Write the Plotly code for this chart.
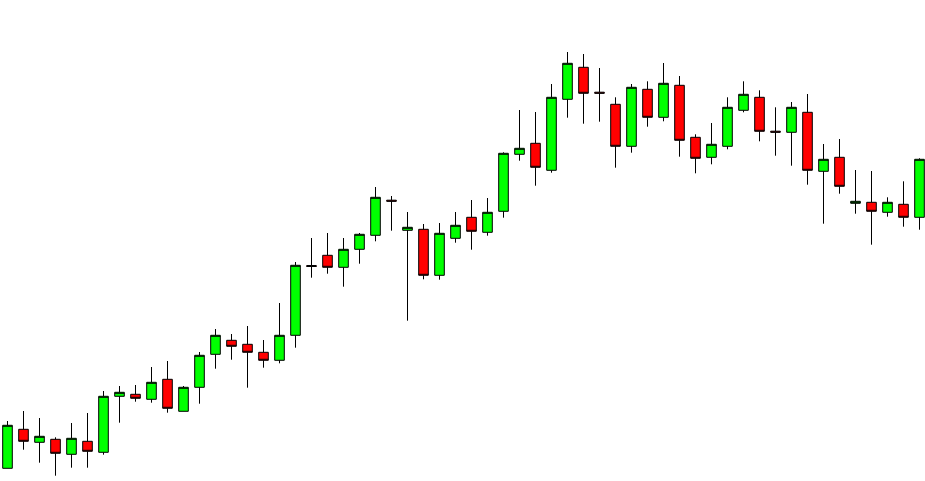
import plotly.graph_objects as go

bars = list(range(58))

open_ = [12.7, 51.7, 38.7, 41.7, 26.7, 39.7, 28.7, 84.7, 86.7, 81.7,
         101.7, 69.7, 93.7, 126.7, 140.7, 136.7, 128.7, 120.7, 145.7, 215.5,
         225.7, 213.7, 231.7, 245.7, 280.8, 250.7, 251.7, 205.7, 242.7, 263.7,
         248.7, 269.7, 326.7, 337.7, 310.7, 381.7, 413.7, 388.8, 376.7, 334.7,
         391.7, 363.7, 395.7, 343.7, 323.7, 334.7, 370.7, 383.7, 349.8, 348.7,
         368.7, 309.7, 323.7, 277.7, 278.7, 268.7, 276.7, 263.7]
high = [60, 70, 63, 43.7, 58, 68, 90, 95, 96, 114,
        120, 95, 129, 152, 147, 155, 141, 178, 219, 243,
        248, 243, 248, 294, 285, 269, 257, 258, 269, 281,
        283, 328.7, 371, 369, 397, 429, 427, 413, 383.7, 397,
        399.7, 418, 405, 346.7, 358, 383.7, 399.7, 390.7, 373.7, 379,
        387, 337, 342, 311, 310, 283.7, 299.7, 322.7]
low = [12.7, 31.3, 18.3, 5.3, 13.3, 13.3, 26.3, 58.3, 79.3, 78.3,
       68.3, 69.7, 77.3, 112.3, 121.3, 93.3, 113.3, 117.7, 133.3, 203.3,
       207.3, 194.3, 217.3, 239.7, 250.3, 160.3, 201.7, 201.3, 238.3, 231.3,
       245.3, 263.3, 320.3, 295.3, 308.3, 363.3, 357.3, 359.3, 313.3, 328.3,
       354.3, 359.7, 324.3, 307.7, 316.7, 331.7, 368.7, 339.7, 325.3, 315.3,
       296.3, 257.3, 287.3, 267.3, 236.3, 264.3, 254.3, 251.3]
close = [55.7, 39.7, 44.7, 27.7, 42.7, 29.7, 84.7, 88.7, 82.7, 98.7,
         72.7, 93.7, 125.7, 145.7, 134.7, 128.7, 120.7, 145.7, 215.7, 214.5,
         213.7, 231.7, 246.7, 283.7, 279.8, 253.7, 205.7, 247.7, 255.7, 249.7,
         268.7, 327.7, 332.7, 313.7, 383.7, 417.7, 387.7, 387.8, 334.7, 393.7,
         363.7, 397.7, 340.7, 322.7, 336.7, 373.7, 386.7, 349.7, 348.8, 373.7,
         310.7, 321.7, 294.7, 279.7, 269.7, 278.7, 263.7, 321.7]

fig = go.Figure(go.Candlestick(
    x=bars, open=open_, high=high, low=low, close=close,
    increasing=dict(fillcolor="#00FF00", line=dict(color="black", width=1)),
    decreasing=dict(fillcolor="#FF0000", line=dict(color="black", width=1)),
    whiskerwidth=0,
    hoverinfo="x+y",
))

fig.update_layout(
    width=925, height=481,
    margin=dict(l=0, r=0, t=0, b=0, pad=0),
    paper_bgcolor="white", plot_bgcolor="white",
    showlegend=False,
    boxgap=0.4, boxgroupgap=0,
    xaxis=dict(range=[-0.46875, 57.34375], visible=False, showgrid=False,
               zeroline=False, rangeslider=dict(visible=False)),
    yaxis=dict(range=[0, 481], visible=False, showgrid=False, zeroline=False),
)

fig.write_html("out.html", config={"displayModeBar": False},
               post_script="document.body.style.margin='0';")
